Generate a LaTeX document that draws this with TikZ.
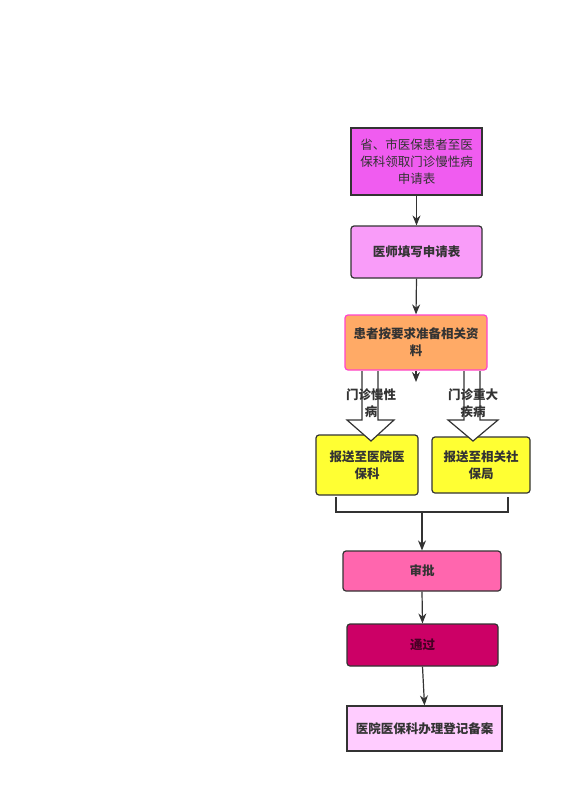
\documentclass[tikz,border=0pt]{standalone}
\usepackage{fontspec}
\newfontfamily\cjk{Noto Sans CJK SC}
\usetikzlibrary{arrows.meta,calc}
\definecolor{linec}{HTML}{333333}
\definecolor{magA}{HTML}{F05CF0}
\definecolor{magB}{HTML}{F99CF9}
\definecolor{orA}{HTML}{FFAA66}
\definecolor{orB}{HTML}{FF44CC}
\definecolor{yelA}{HTML}{FFFF33}
\definecolor{pinkA}{HTML}{FF66AE}
\definecolor{darkA}{HTML}{CC0066}
\definecolor{lightA}{HTML}{FFCCFF}
\definecolor{txt}{HTML}{333333}
\tikzset{
  box/.style={draw=linec, line width=1.2pt, align=center, text=txt, inner sep=2pt, font=\cjk\fontsize{12.5}{17}\selectfont},
  rbox/.style={box, rounded corners=3pt},
  bold/.style={font=\cjk\bfseries\fontsize{12.5}{17}\selectfont},
  conn/.style={draw=linec, line width=1.2pt, -{Stealth[length=10pt,width=8pt]}},
  hollow/.style={draw=linec, line width=1.2pt, fill=white},
}
\begin{document}
\begin{tikzpicture}[x=1pt,y=-1pt]
\useasboundingbox (0,0) rectangle (579,800);
\fill[white] (0,0) rectangle (579,800);

\node[box, fill=magA, minimum width=131pt, minimum height=67pt] (b1) at (416.5,161.5)
  {省、市医保患者至医\\保科领取门诊慢性病\\申请表};
\node[rbox, bold, fill=magB, minimum width=131pt, minimum height=52pt] (b2) at (416.5,252)
  {医师填写申请表};
\node[rbox, bold, draw=orB, fill=orA, minimum width=142pt, minimum height=55pt] (b3) at (416,342.5)
  {患者按要求准备相关资\\料};

\node[rbox, bold, fill=yelA, minimum width=102pt, minimum height=60pt] (b4) at (367,465)
  {报送至医院医\\保科};
\node[rbox, bold, fill=yelA, minimum width=98pt, minimum height=56pt] (b5) at (481,465)
  {报送至相关社\\保局};

% hollow block arrows
\draw[hollow] (362,371) -- (362,420) -- (347,420) -- (371,441) -- (394,420) -- (378,420) -- (378,371);
\draw[hollow] (464,371) -- (464,420) -- (448,420) -- (473,441) -- (498,420) -- (480,420) -- (480,371);
\node[bold, text=txt, align=center, inner sep=0pt] (l1) at (371,403) {门诊慢性\\病};
\node[bold, text=txt, align=center, inner sep=0pt] (l2) at (473,403) {门诊重大\\疾病};

\coordinate (tipA) at (416,382);
\draw[conn] (b3.south) -- (tipA);

\coordinate (brL) at (336,497);
\coordinate (brR) at (508,497);
\coordinate (brM) at (422,512);
\draw[linec, line width=1.2pt] (brL) -- (336,512) -- (508,512) -- (brR);

\node[rbox, bold, fill=pinkA, minimum width=158pt, minimum height=40pt] (b6) at (422,571) {审批};
\node[rbox, bold, fill=darkA, text=black!65!darkA, minimum width=151pt, minimum height=42pt] (b7) at (422.5,645) {通过};
\node[box, bold, fill=lightA, minimum width=155pt, minimum height=45pt] (b8) at (424.5,728.5) {医院医保科办理登记备案};

\draw[conn] (b1.south) -- (b2.north);
\draw[conn] (b2.south) -- (b3.north);
\draw[conn] (brM) -- (b6.north);
\draw[conn] (b6.south) -- (b7.north);
\draw[conn] (b7.south) -- (b8.north);
\end{tikzpicture}
\end{document}
